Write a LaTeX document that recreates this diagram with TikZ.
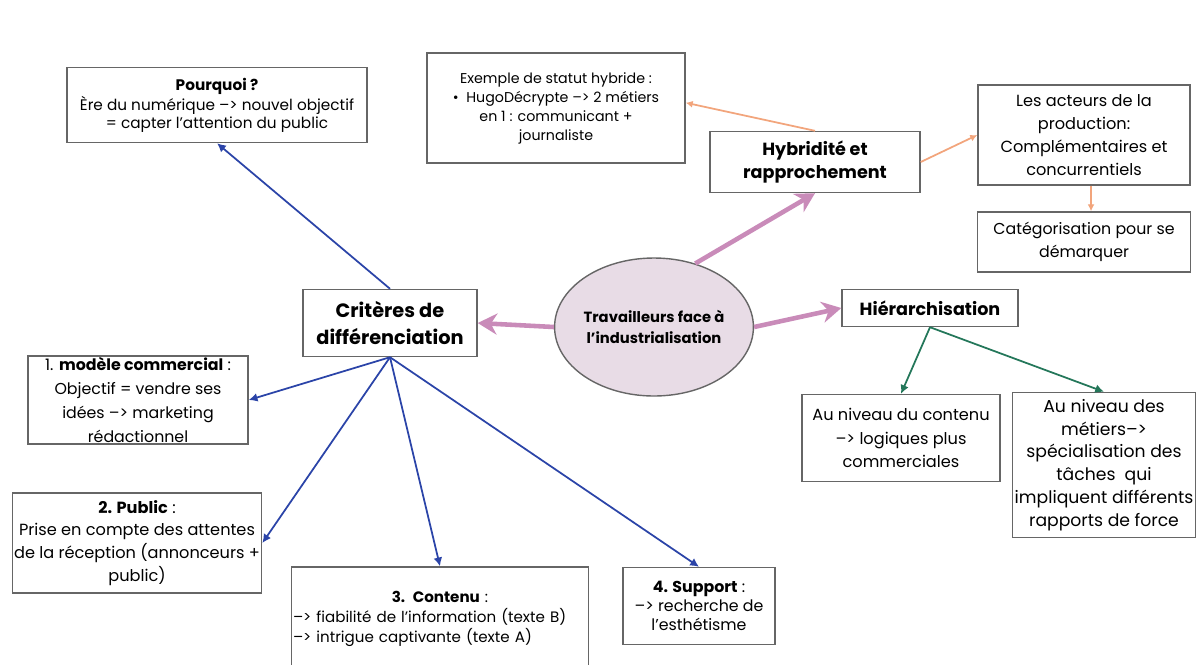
\documentclass[tikz,border=0pt]{standalone}
\usepackage{fontspec}
\setmainfont{Poppins}
\usetikzlibrary{arrows.meta,shapes.geometric}

\definecolor{rose}{HTML}{C98BB9}
\definecolor{mauve}{HTML}{E8DCE6}
\definecolor{bleu}{HTML}{2B44A8}
\definecolor{vert}{HTML}{24775A}
\definecolor{orange}{HTML}{F2A57C}

\tikzset{
    cadre/.style={draw=black!60, line width=0.8pt, fill=white, align=center, inner sep=1pt},
    dim/.style 2 args={minimum width=#1*0.02cm, minimum height=#2*0.02cm},
    texte/.style 2 args={font=\fontsize{#1}{#2}\selectfont},
    lien rose/.style={draw=rose, line width=2.6pt, -{Stealth[length=11pt,width=12pt]}},
    lien bleu/.style={draw=bleu, line width=1pt, -{Latex[length=5pt,width=5pt]}},
    lien vert/.style={draw=vert, line width=1pt, -{Latex[length=5pt,width=5pt]}},
    lien orange/.style={draw=orange, line width=1pt, -{Latex[length=4pt,width=4pt]}},
}

\begin{document}
\begin{tikzpicture}[x=0.02cm, y=-0.02cm]
    \useasboundingbox (0,0) rectangle (1196,664);

    % centre
    \node[ellipse, draw=black!60, line width=0.8pt, fill=mauve, dim={198}{138}, align=center,
        inner sep=0pt, texte={8.4}{12}] (ind) at (654,327) {\textbf{Travailleurs face à}\\\textbf{l'industrialisation}};

    % branches principales
    \node[cadre, dim={174}{67}, texte={11}{15}] (crit) at (390,323) {\textbf{Critères de}\\\textbf{différenciation}};
    \node[cadre, dim={210}{61}, texte={10}{13.5}] (hyb) at (815,162) {\textbf{Hybridité et}\\\textbf{rapprochement}};
    \node[cadre, dim={176}{37}, texte={10}{13}] (hier) at (930,308) {\textbf{Hiérarchisation}};

    % hybridité
    \node[cadre, dim={258}{110}, texte={8.1}{10.8}] (ex) at (556,108)
        {Exemple de statut hybride :\\\textbullet\ \ HugoDécrypte --{}> 2 métiers\\en 1 : communicant +\\journaliste};
    \node[cadre, dim={212}{100}, texte={9.2}{13}] (act) at (1084,135)
        {Les acteurs de la\\production:\\Complémentaires et\\concurrentiels};
    \node[cadre, dim={213}{60}, texte={9}{13.5}] (cat) at (1084,242)
        {Catégorisation pour se\\démarquer};

    % hiérarchisation
    \node[cadre, dim={198}{87}, texte={9.2}{13.5}] (niv1) at (901,438)
        {Au niveau du contenu\\--{}> logiques plus\\commerciales};
    \node[cadre, dim={183}{145}, texte={9.8}{13}] (niv2) at (1104,465)
        {Au niveau des\\métiers--{}>\\spécialisation des\\tâches\ \ qui\\impliquent différents\\rapports de force};

    % critères
    \node[cadre, dim={300}{75}, texte={8.7}{10.3}] (pq) at (217,105)
        {\textbf{Pourquoi ?}\\Ère du numérique --{}> nouvel objectif\\= capter l'attention du public};
    \node[cadre, dim={220}{87}, texte={9}{13.5}] (mod) at (138,400)
        {1. \textbf{modèle commercial} :\\Objectif = vendre ses\\idées --{}> marketing\\rédactionnel};
    \node[cadre, dim={247}{100}, texte={9.2}{13}] (pub) at (137,543)
        {\textbf{2. Public} :\\Prise en compte des attentes\\de la réception (annonceurs +\\public)};
    \node[cadre, dim={296}{104}, texte={8.6}{11.2}, text width=294*0.02cm, align=left] (cont) at (440,619)
        {\makebox[\linewidth]{\textbf{3. Contenu} :}\\--{}> fiabilité de l'information (texte B)\\--{}> intrigue captivante (texte A)};
    \node[cadre, dim={152}{77}, texte={9}{11}] (sup) at (699,606)
        {\textbf{4. Support} :\\--{}> recherche de\\l'esthétisme};

    \draw[lien rose] (ind.west) -- (crit.east);
    \draw[lien rose] (ind.east) -- (hier.west);
    \draw[lien rose] (ind.57) -- (hyb.south);

    \draw[lien orange] (hyb.north) -- ([yshift=3pt]ex.east);
    \draw[lien orange] (hyb.east) -- (act.west);
    \draw[lien orange] ([xshift=4pt]act.south) -- ([xshift=4pt]cat.north);

    \draw[lien vert] (hier.south) -- (niv1.north);
    \draw[lien vert] (hier.south) -- (niv2.north);

    \draw[lien bleu] (crit.north) -- (pq.south);
    \draw[lien bleu] (crit.south) -- (mod.east);
    \draw[lien bleu] (crit.south) -- (pub.east);
    \draw[lien bleu] (crit.south) -- (cont.north);
    \draw[lien bleu] (crit.south) -- (sup.north);
\end{tikzpicture}
\end{document}
